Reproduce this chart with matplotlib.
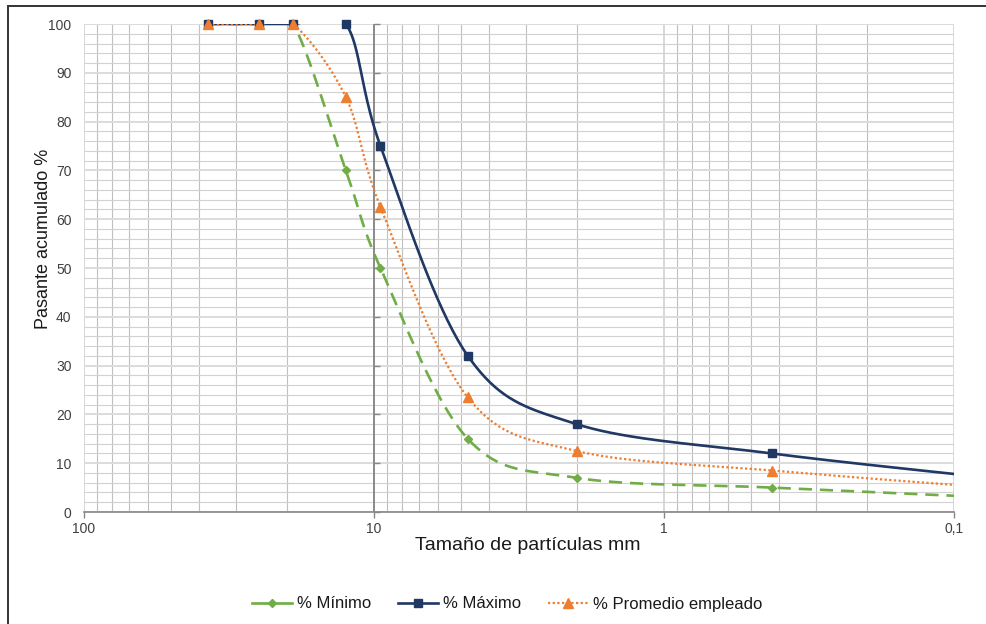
import numpy as np
import matplotlib
matplotlib.use("Agg")
import matplotlib.pyplot as plt
from matplotlib.lines import Line2D
from matplotlib.patches import Rectangle
from matplotlib.ticker import FixedLocator, LogLocator, NullFormatter

plt.rcParams['font.family'] = ['Liberation Sans', 'DejaVu Sans']

# tamices (mm) y porcentaje pasante
tamiz = [37.5, 25, 19, 12.5, 9.5, 4.75, 2.0, 0.425, 0.075]
minimo = [100, 100, 100, 70, 50, 15, 7, 5, 3]
maximo = [100, 100, 100, 100, 75, 32, 18, 12, 7]
promedio = [100, 100, 100, 85, 62.5, 23.5, 12.5, 8.5, 5]

xticks = [100, 10, 1, 0.1]
xticklabels = ['100', '10', '1', '0,1']
yticks = list(range(0, 101, 10))
x_cruce = 10  # el eje vertical corta en 10 mm

C_MIN = '#70AD47'
C_MAX = '#1F3864'
C_PROM = '#ED7D31'
C_EJE = '#868686'


def suavizar(x, y, n=40):
    # curva tipo Excel (bezier con tangentes catmull-rom) sobre eje log
    u = -np.log10(np.asarray(x, float)) * 290.0
    v = np.asarray(y, float) * 4.88
    p = np.column_stack([u, v])
    p = np.vstack([p[0], p, p[-1]])
    t = np.linspace(0, 1, n)[:, None]
    out = []
    for i in range(1, len(p) - 2):
        p0, p1, p2, p3 = p[i - 1], p[i], p[i + 1], p[i + 2]
        c1 = p1 + (p2 - p0) / 6.0
        c2 = p2 - (p3 - p1) / 6.0
        seg = ((1 - t) ** 3) * p1 + 3 * ((1 - t) ** 2) * t * c1 \
            + 3 * (1 - t) * t ** 2 * c2 + t ** 3 * p2
        out.append(seg if i == 1 else seg[1:])
    out = np.vstack(out)
    return 10 ** (-out[:, 0] / 290.0), out[:, 1] / 4.88


fig = plt.figure(figsize=(9.86, 6.24), dpi=100)
ax = fig.add_axes([84 / 986, 1 - 512 / 624, 870 / 986, 488 / 624])

ax.set_xscale('log')
ax.set_xlim(100, 0.1)
ax.set_ylim(0, 100)

# rejilla
ax.xaxis.set_major_locator(FixedLocator(xticks))
ax.xaxis.set_minor_locator(LogLocator(base=10, subs=np.arange(2, 10)))
ax.xaxis.set_minor_formatter(NullFormatter())
ax.set_xticklabels(xticklabels)
ax.set_yticks(yticks)
ax.yaxis.set_minor_locator(FixedLocator(np.arange(0, 101, 2)))
ax.grid(True, axis='x', which='minor', color='#BFBFBF', lw=0.8)
ax.grid(True, axis='x', which='major', color='#D4D4D4', lw=1.3)
ax.grid(True, axis='y', which='minor', color='#D2D2D2', lw=0.8)
ax.grid(True, axis='y', which='major', color='#DCDCDC', lw=1.4)
ax.set_axisbelow(True)

for s in ['top', 'right', 'left']:
    ax.spines[s].set_visible(False)
ax.spines['bottom'].set_color(C_EJE)
ax.spines['bottom'].set_linewidth(1.2)

ax.tick_params(axis='y', which='both', length=0, pad=9, labelsize=10, labelcolor='#404040')
ax.tick_params(axis='x', which='major', length=4, width=1, color=C_EJE, direction='out',
               pad=3, labelsize=10, labelcolor='#404040')
ax.tick_params(axis='x', which='minor', length=0)

# eje vertical en x = 10 con sus marcas hacia la derecha
ax.axvline(x_cruce, color=C_EJE, lw=1.3, zorder=2)
ax.plot([x_cruce] * len(yticks), yticks, ls='none', marker=1, ms=4, mew=1,
        color=C_EJE, clip_on=False, zorder=2)

# curvas
xs, ys = suavizar(tamiz, minimo)
ax.plot(xs, ys, color=C_MIN, lw=1.9, ls=(0, (5, 3)), zorder=3)
xs, ys = suavizar(tamiz, maximo)
ax.plot(xs, ys, color=C_MAX, lw=1.9, ls='-', zorder=4)
xs, ys = suavizar(tamiz, promedio)
ax.plot(xs, ys, color=C_PROM, lw=1.6, ls=(0, (1, 1.1)), zorder=5)

tz = np.array(tamiz)
vis = tz >= 0.1
ax.plot(tz[vis], np.array(minimo)[vis], 'D', color=C_MIN, ms=4.5, ls='none', clip_on=False, zorder=6)
ax.plot(tz[vis], np.array(maximo)[vis], 's', color=C_MAX, ms=6, ls='none', clip_on=False, zorder=7)
ax.plot(tz[vis], np.array(promedio)[vis], '^', color=C_PROM, ms=7, ls='none', clip_on=False, zorder=8)

ax.set_xlabel('Tamaño de partículas mm', fontsize=14, color='#1a1a1a')
ax.xaxis.set_label_coords(0.51, -0.052)
ax.set_ylabel('Pasante acumulado %', fontsize=13, color='#1a1a1a', va='center')
ax.yaxis.set_label_coords(-0.047, 0.56)

handles = [
    Line2D([], [], color=C_MIN, lw=1.9, marker='D', ms=4.5),
    Line2D([], [], color=C_MAX, lw=1.9, marker='s', ms=6),
    Line2D([], [], color=C_PROM, lw=1.6, ls=(0, (1, 1.1)), marker='^', ms=7),
]
fig.legend(handles, ['% Mínimo', '% Máximo', '% Promedio empleado'],
           loc='center', bbox_to_anchor=(507 / 986, 1 - 604 / 624), ncol=3,
           frameon=False, fontsize=12, handlelength=2.4, handletextpad=0.3,
           columnspacing=1.6, labelcolor='#1a1a1a')

# marco del gráfico
fig.add_artist(Rectangle((8 / 986, -0.1), 1.2, 1 - 6 / 624 + 0.1, transform=fig.transFigure,
                         fill=False, ec='#333333', lw=1.4))

fig.savefig('out.png', dpi=100)
